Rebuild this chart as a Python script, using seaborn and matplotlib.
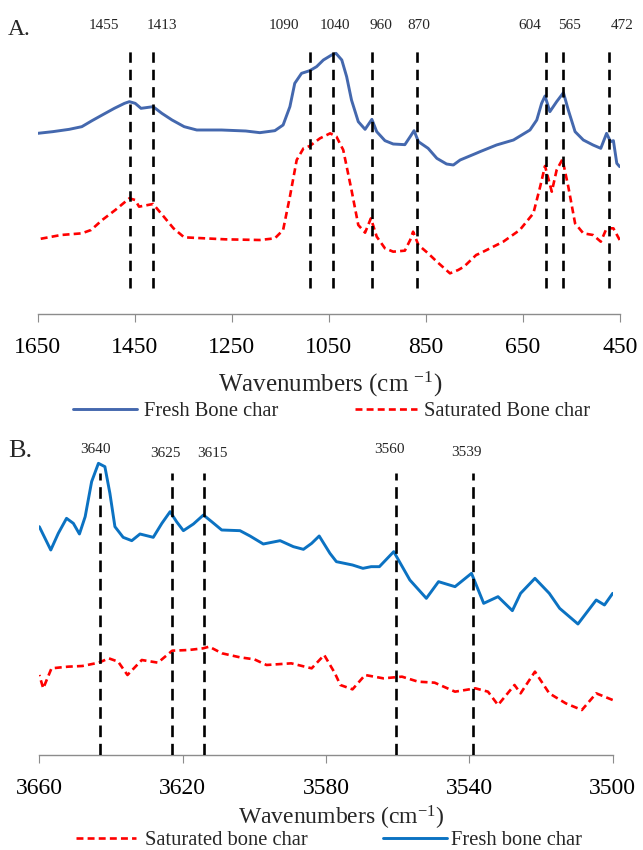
import numpy as np
import pandas as pd
import matplotlib
matplotlib.use("Agg")
import matplotlib.pyplot as plt
import seaborn as sns

# ---------------- data : panel A (fingerprint region) ----------------
wn_fresh_A = [1650, 1619, 1585, 1559, 1538, 1517, 1492, 1471, 1461, 1449, 1437, 1412, 1394, 1373,
              1348, 1322, 1271, 1221, 1192, 1161, 1144, 1130, 1120, 1106, 1089, 1075, 1061, 1044,
              1035, 1023, 1013, 1003, 989, 975, 961, 951, 934, 917, 893, 882, 874, 865, 845, 827,
              807, 793, 779, 746, 738, 704, 669, 635, 621, 611, 604, 594, 580, 566, 556, 542,
              525, 505, 489, 477, 469, 463, 456, 450]
ab_fresh_A = [0.600, 0.605, 0.612, 0.620, 0.638, 0.655, 0.675, 0.690, 0.695, 0.690, 0.675, 0.680,
              0.660, 0.640, 0.620, 0.610, 0.610, 0.607, 0.602, 0.608, 0.625, 0.680, 0.750, 0.780,
              0.788, 0.800, 0.820, 0.835, 0.840, 0.820, 0.770, 0.700, 0.635, 0.612, 0.642, 0.605,
              0.578, 0.568, 0.566, 0.590, 0.608, 0.575, 0.555, 0.525, 0.508, 0.505, 0.520, 0.540,
              0.545, 0.565, 0.580, 0.610, 0.640, 0.690, 0.712, 0.665, 0.695, 0.722, 0.670, 0.605,
              0.580, 0.565, 0.555, 0.600, 0.575, 0.578, 0.510, 0.500]

wn_sat_A = [1650, 1602, 1559, 1540, 1517, 1490, 1461, 1449, 1441, 1412, 1390, 1370, 1348, 1263,
            1192, 1161, 1144, 1130, 1116, 1102, 1089, 1068, 1047, 1034, 1020, 1003, 989, 975,
            963, 951, 934, 917, 893, 882, 876, 865, 845, 827, 800, 783, 771, 746, 738, 690, 656,
            628, 614, 604, 590, 580, 568, 556, 542, 525, 505, 489, 477, 463, 450]
ab_sat_A = [0.282, 0.295, 0.300, 0.310, 0.340, 0.370, 0.405, 0.400, 0.380, 0.388, 0.350, 0.315,
            0.288, 0.282, 0.280, 0.285, 0.310, 0.410, 0.520, 0.555, 0.562, 0.585, 0.600, 0.590,
            0.550, 0.430, 0.325, 0.302, 0.345, 0.290, 0.255, 0.245, 0.248, 0.280, 0.305, 0.265,
            0.240, 0.215, 0.180, 0.190, 0.200, 0.235, 0.240, 0.275, 0.310, 0.360, 0.440, 0.502,
            0.425, 0.490, 0.522, 0.440, 0.330, 0.300, 0.295, 0.275, 0.315, 0.315, 0.280]

peaks_A = [1460, 1412, 1089, 1041, 960, 868, 602, 566, 472]
peak_labels_A = ["1455", "1413", "1090", "1040", "960", "870", "604", "565", "472"]
ticks_A = [1650, 1450, 1250, 1050, 850, 650, 450]

# ---------------- data : panel B (OH stretching region) ----------------
wn_fresh_B = [3660, 3658.4, 3656.8, 3654.7, 3652.4, 3650.5, 3648.8, 3647.2, 3645.4, 3643.5,
              3641.7, 3640.3, 3638.9, 3636.6, 3634.2, 3631.9, 3628.2, 3625.8, 3623.5, 3621.7,
              3619.8, 3617.0, 3614.2, 3611.9, 3609.1, 3604.0, 3601.2, 3597.5, 3592.8, 3589.1,
              3586.3, 3584.0, 3581.9, 3578.9, 3577.1, 3572.6, 3569.7, 3567.4, 3565.1, 3561.1,
              3556.6, 3552.0, 3548.6, 3544.0, 3539.4, 3536.0, 3532.0, 3528.0, 3525.7, 3521.7,
              3517.7, 3514.8, 3509.7, 3504.6, 3502.3, 3500]
ab_fresh_B = [0.680, 0.645, 0.610, 0.660, 0.705, 0.690, 0.658, 0.710, 0.815, 0.870,
              0.860, 0.780, 0.680, 0.648, 0.638, 0.658, 0.648, 0.690, 0.725, 0.695,
              0.668, 0.688, 0.715, 0.695, 0.670, 0.668, 0.652, 0.628, 0.638, 0.620,
              0.612, 0.630, 0.652, 0.600, 0.575, 0.565, 0.555, 0.560, 0.560, 0.605,
              0.520, 0.465, 0.515, 0.500, 0.540, 0.450, 0.470, 0.428, 0.480, 0.525,
              0.480, 0.435, 0.388, 0.460, 0.445, 0.480]

wn_sat_B = [3660, 3658.9, 3656.6, 3652, 3648, 3643.4, 3640.6, 3638, 3635.4, 3631.4, 3626.9,
            3622.9, 3618.3, 3614.3, 3612.6, 3609, 3604, 3600, 3596.6, 3589.7, 3584, 3580.5,
            3577.5, 3576, 3572.6, 3569.1, 3564, 3558.8, 3554.3, 3549.7, 3544, 3538.3, 3534.8,
            3532, 3527.4, 3525.7, 3521.7, 3517.7, 3513.1, 3508.6, 3504.6, 3500]
ab_sat_B = [0.235, 0.195, 0.255, 0.260, 0.262, 0.272, 0.285, 0.275, 0.235, 0.280, 0.272,
            0.308, 0.310, 0.315, 0.320, 0.300, 0.288, 0.282, 0.265, 0.270, 0.255, 0.295,
            0.240, 0.205, 0.192, 0.235, 0.225, 0.230, 0.215, 0.212, 0.185, 0.195, 0.185,
            0.145, 0.205, 0.180, 0.245, 0.180, 0.150, 0.130, 0.180, 0.160]

peaks_B = [3643, 3623, 3614, 3560.5, 3539]
peak_labels_B = ["3640", "3625", "3615", "3560", "3539"]
ticks_B = [3660, 3620, 3580, 3540, 3500]

# ---------------- style ----------------
sns.set_theme(style="white")
plt.rcParams["font.family"] = ["Liberation Serif", "DejaVu Serif"]
plt.rcParams["mathtext.fontset"] = "custom"
plt.rcParams["mathtext.rm"] = "Liberation Serif"
plt.rcParams["mathtext.it"] = "Liberation Serif:italic"
plt.rcParams["lines.scale_dashes"] = False
plt.rcParams["lines.solid_joinstyle"] = "round"
plt.rcParams["lines.dash_joinstyle"] = "round"

BLUE_A = "#4468AE"
BLUE_B = "#0B72C2"
RED = "#FF0000"
GREY = "#8C8C8C"

W, H = 643, 850
fig = plt.figure(figsize=(W / 100, H / 100), dpi=100)


def rect(l, r, t, b):
    return [l / W, 1 - b / H, (r - l) / W, (b - t) / H]


def style_axis(ax, ticks, xlim, ylim):
    ax.set_xlim(*xlim)
    ax.set_ylim(*ylim)
    ax.set_xticks(ticks)
    ax.set_xticklabels([str(t) for t in ticks])
    ax.set_yticks([])
    for s in ["top", "right", "left"]:
        ax.spines[s].set_visible(False)
    ax.spines["bottom"].set_color(GREY)
    ax.spines["bottom"].set_linewidth(1.0)
    ax.tick_params(axis="x", direction="out", length=5.8, width=0.8, color=GREY,
                   pad=10.5, labelsize=17, labelcolor="black", bottom=True)
    ax.set_ylabel("")
    ax.grid(False)
    ax.set_facecolor("none")


# ---------------- panel A ----------------
axA = fig.add_axes(rect(37.7, 619.7, 10, 314))
dfA_f = pd.DataFrame({"wn": wn_fresh_A, "ab": ab_fresh_A})
dfA_s = pd.DataFrame({"wn": wn_sat_A, "ab": ab_sat_A})
sns.lineplot(data=dfA_f, x="wn", y="ab", ax=axA, color=BLUE_A, linewidth=2.1,
             label="Fresh Bone char", legend=False)
sns.lineplot(data=dfA_s, x="wn", y="ab", ax=axA, color=RED, linewidth=1.9,
             label="Saturated Bone char", legend=False)
axA.lines[1].set_linestyle((0, (5.0, 3.0)))
axA.vlines(peaks_A, 0.135, 0.852, colors="black", linewidth=1.9,
           linestyles=[(0, (7.5, 5.0))], zorder=5)
dxA = [-18.7, 6.5, -18.7, 1.4, 6.5, 1.4, -11.5, 4.3, 9.4]
for p, lab, dx in zip(peaks_A, peak_labels_A, dxA):
    axA.annotate(lab, xy=(p, 0.912), xytext=(dx, 0), textcoords="offset points",
                 ha="center", va="baseline", fontsize=11, annotation_clip=False)
style_axis(axA, ticks_A, (1650, 450), (0.058, 0.970))
axA.set_xlabel("Wavenumbers (cm $^{-1}$)", fontsize=18)
axA.xaxis.set_label_coords(0.503, -0.184)
axA.xaxis.label.set_va("top")
fig.text(8 / W, 1 - 35 / H, "A.", fontsize=17, ha="left", va="baseline")

hA = axA.get_lines()
fig.legend(handles=[hA[0]], labels=["Fresh Bone char"], loc="center left",
           bbox_to_anchor=(72.7 / W, 1 - 411.7 / H), frameon=False, fontsize=14.8,
           handlelength=3.13, handletextpad=0.34, borderpad=0, borderaxespad=0)
fig.legend(handles=[hA[1]], labels=["Saturated Bone char"], loc="center left",
           bbox_to_anchor=(355 / W, 1 - 411.7 / H), frameon=False, fontsize=14.8,
           handlelength=3.0, handletextpad=0.34, borderpad=0, borderaxespad=0)

# ---------------- panel B ----------------
axB = fig.add_axes(rect(39.3, 612.7, 428, 755))
dfB_f = pd.DataFrame({"wn": wn_fresh_B, "ab": ab_fresh_B})
dfB_s = pd.DataFrame({"wn": wn_sat_B, "ab": ab_sat_B})
sns.lineplot(data=dfB_f, x="wn", y="ab", ax=axB, color=BLUE_B, linewidth=2.1,
             label="Fresh bone char", legend=False)
sns.lineplot(data=dfB_s, x="wn", y="ab", ax=axB, color=RED, linewidth=1.9,
             label="Saturated bone char", legend=False)
axB.lines[1].set_linestyle((0, (5.0, 3.0)))
axB.vlines(peaks_B, -0.005, 0.84, colors="black", linewidth=1.9,
           linestyles=[(0, (8.4, 4.8))], zorder=5)
dxB = [-3.6, -4.3, 5.8, -5.0, -5.0]
dyB = [0.900, 0.890, 0.890, 0.900, 0.892]
for p, lab, dx, yb in zip(peaks_B, peak_labels_B, dxB, dyB):
    axB.annotate(lab, xy=(p, yb), xytext=(dx, 0), textcoords="offset points",
                 ha="center", va="baseline", fontsize=11, annotation_clip=False)
style_axis(axB, ticks_B, (3660, 3500), (-0.005, 0.976))
axB.set_xlabel("Wavenumbers (cm$^{-1}$)", fontsize=17)
axB.xaxis.set_label_coords(0.527, -0.150)
axB.xaxis.label.set_va("top")
fig.text(8 / W, 1 - 456.7 / H, "B.", fontsize=19, ha="left", va="baseline")

hB = axB.get_lines()
fig.legend(handles=[hB[1]], labels=["Saturated bone char"], loc="center left",
           bbox_to_anchor=(76 / W, 1 - 840 / H), frameon=False, fontsize=14.8,
           handlelength=2.9, handletextpad=0.45, borderpad=0, borderaxespad=0)
fig.legend(handles=[hB[0]], labels=["Fresh bone char"], loc="center left",
           bbox_to_anchor=(383 / W, 1 - 840 / H), frameon=False, fontsize=14.8,
           handlelength=3.13, handletextpad=0.2, borderpad=0, borderaxespad=0)

fig.savefig("out.png", dpi=100)
